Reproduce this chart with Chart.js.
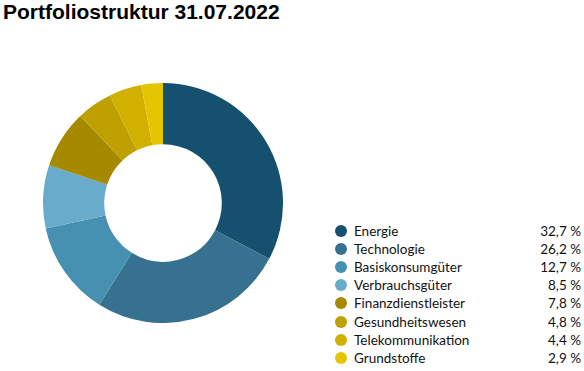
<!DOCTYPE html>
<html>
<head>
<meta charset="utf-8">
<script src="https://cdn.jsdelivr.net/npm/chart.js@4"></script>
<style>
  body { margin: 0; background: #fff; width: 584px; height: 371px; position: relative; overflow: hidden; }
  #title { position: absolute; left: 3px; top: 0px; font: bold 21px "Liberation Sans", Arial, sans-serif; color: #000; }
  #chartBox { position: absolute; left: 43px; top: 83px; width: 240px; height: 240px; }
  #legend { position: absolute; left: 334px; top: 222px; width: 247px; font: 13.5px Lato, sans-serif; color: #111; }
  .row { display: flex; align-items: center; height: 18.1px; }
  .dot { width: 12px; height: 12px; border-radius: 50%; margin-left: 1px; margin-right: 7px; }
  .name { flex: 1; }
  .val { text-align: right; }
</style>
</head>
<body>
<div id="title">Portfoliostruktur 31.07.2022</div>
<div id="chartBox"><canvas id="donut"></canvas></div>
<div id="legend"></div>
<script>
// Daten
const sectors = ['Energie', 'Technologie', 'Basiskonsumgüter', 'Verbrauchsgüter', 'Finanzdienstleister', 'Gesundheitswesen', 'Telekommunikation', 'Grundstoffe'];
const shares = [32.7, 26.2, 12.7, 8.5, 7.8, 4.8, 4.4, 2.9];
const colors = ['#15506f', '#36728f', '#4690b2', '#69abcb', '#a58a00', '#bea000', '#d1b000', '#e5c400'];

// Donut zeichnen
new Chart(document.getElementById('donut').getContext('2d'), {
    type: 'doughnut',
    data: {
        labels: sectors,
        datasets: [{
            data: shares,
            backgroundColor: colors,
            borderWidth: 0
        }]
    },
    options: {
        responsive: true,
        maintainAspectRatio: false,
        animation: false,
        cutout: '49%',
        plugins: {
            legend: { display: false },
            tooltip: { enabled: false }
        }
    }
});

// Legende
const legend = document.getElementById('legend');
sectors.forEach((name, i) => {
    const row = document.createElement('div');
    row.className = 'row';
    row.innerHTML = `
        <span class="dot" style="background:${colors[i]}"></span>
        <span class="name">${name}</span>
        <span class="val">${shares[i].toFixed(1).replace('.', ',')} %</span>
    `;
    legend.appendChild(row);
});
</script>
</body>
</html>
